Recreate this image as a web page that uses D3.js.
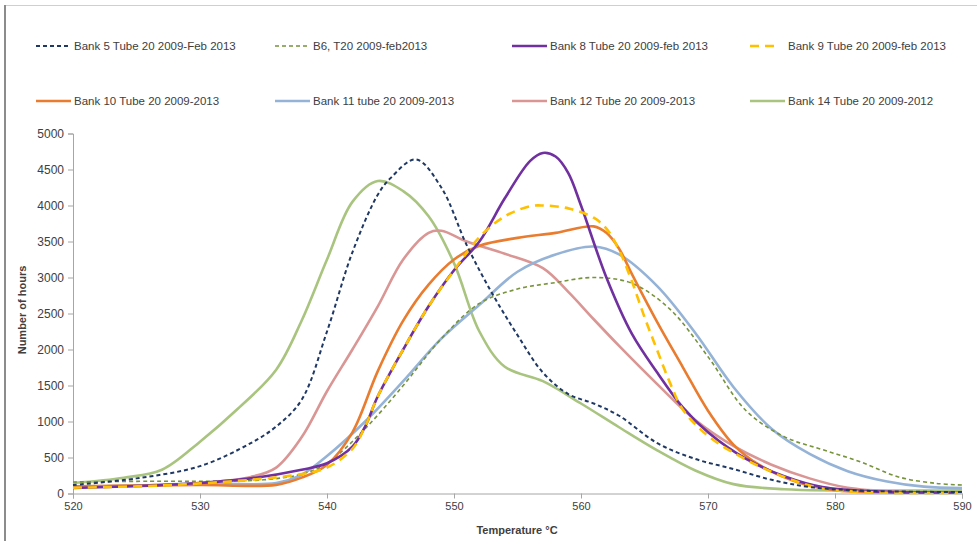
<!DOCTYPE html>
<html>
<head>
<meta charset="utf-8">
<script src="https://cdn.jsdelivr.net/npm/d3@7"></script>
<style>
  body { margin: 0; background: #fff; }
  svg text { font-family: "Liberation Sans", Arial, sans-serif; fill: #404040; }
</style>
</head>
<body>
<svg id="chart" width="977" height="541"></svg>
<script>
// temperatures (°C) and hours for each bank
var bank5T  = [520,525,530,534,536,538,540,542,544,545,547,549,551,553,555,557,559,561,563,566,569,572,575,578,582,590];
var bank5V  = [118,210,380,700,930,1300,2250,3350,4150,4380,4640,4250,3450,2780,2200,1680,1380,1250,1080,700,480,340,190,90,40,20];

var bank6T  = [520,526,530,535,538,540,543,546,549,552,555,558,561,564,567,570,573,576,579,582,585,588,590];
var bank6V  = [160,170,170,190,270,420,900,1500,2150,2640,2840,2930,3000,2920,2560,1900,1150,790,610,440,230,140,118];

var bank8T  = [520,526,530,534,538,540,542,543,544,546,548,550,552,554,556,557,558,559,560,562,564,566,568,570,573,576,579,583,590];
var bank8V  = [76,110,146,210,330,420,650,930,1350,2000,2600,3100,3500,4100,4620,4730,4680,4450,4000,3000,2220,1680,1200,850,480,240,90,30,15];

var bank9T  = [520,526,530,534,538,540,542,543,544,546,548,550,552,554,556,557,559,561,562,563,564,565,566,567,568,570,573,576,579,583,590];
var bank9V  = [80,105,140,190,270,360,620,930,1350,2000,2600,3100,3560,3850,3990,4000,3960,3830,3680,3380,2950,2450,1990,1540,1170,800,470,230,70,15,10];

var bank10T = [520,526,530,536,538,540,542,544,546,548,550,552,555,558,561,562,563,564,566,568,570,572,574,577,580,584,590];
var bank10V = [100,110,118,120,220,400,850,1700,2400,2900,3250,3440,3550,3620,3710,3620,3400,3050,2380,1760,1150,680,400,160,45,15,10];

var bank11T = [520,526,530,536,538,540,543,546,549,552,555,558,561,563,566,569,572,575,578,581,584,587,590];
var bank11V = [90,115,140,145,260,520,1000,1560,2150,2620,3080,3320,3430,3320,2880,2230,1480,900,550,310,170,95,76];

var bank12T = [520,526,530,534,536,538,540,542,544,546,548,549,551,554,557,559,561,563,566,569,572,575,578,581,585,590];
var bank12V = [90,115,146,230,360,780,1420,2000,2600,3250,3620,3650,3500,3330,3130,2800,2420,2050,1520,1020,660,400,210,80,25,15];

var bank14T = [520,524,527,530,533,536,538,540,542,544,546,548,550,552,554,557,560,563,566,569,572,576,590];
var bank14V = [146,220,330,720,1180,1720,2400,3250,4050,4340,4200,3850,3200,2250,1760,1560,1250,920,600,320,130,60,45];

var seriesNames = [
  "Bank 5 Tube 20 2009-Feb 2013", "B6, T20 2009-feb2013",
  "Bank 8 Tube 20 2009-feb 2013", "Bank 9 Tube 20 2009-feb 2013",
  "Bank 10 Tube 20 2009-2013", "Bank 11 tube 20  2009-2013",
  "Bank 12 Tube 20 2009-2013", "Bank 14 Tube 20 2009-2012"
];
var xTicks = [520,530,540,550,560,570,580,590];
var yTicks = [0,500,1000,1500,2000,2500,3000,3500,4000,4500,5000];

var styles = [
  {color: "#1f3864", width: 2,   dash: "4,3"},
  {color: "#77933c", width: 1.6, dash: "4,3"},
  {color: "#7030a0", width: 2.6, dash: null},
  {color: "#ffc000", width: 2.6, dash: "9,6"},
  {color: "#e97c2e", width: 2.6, dash: null},
  {color: "#95b3d7", width: 2.6, dash: null},
  {color: "#d99694", width: 2.6, dash: null},
  {color: "#a9c47f", width: 2.6, dash: null}
];

var allT = [bank5T, bank6T, bank8T, bank9T, bank10T, bank11T, bank12T, bank14T];
var allV = [bank5V, bank6V, bank8V, bank9V, bank10V, bank11V, bank12V, bank14V];
var series = seriesNames.map(function(n, i) {
  return {name: n, style: styles[i], pts: allT[i].map(function(t, j) { return [t, allV[i][j]]; })};
});

var svg = d3.select('#chart');

// outer frame
svg.append('line').attr('x1', 5).attr('x2', 977).attr('y1', 5.5).attr('y2', 5.5)
  .attr('stroke', '#cfcfcf').attr('stroke-width', 1);
svg.append('line').attr('x1', 5).attr('x2', 5).attr('y1', 5).attr('y2', 541)
  .attr('stroke', '#8c8c8c').attr('stroke-width', 2);

var x = d3.scaleLinear().domain([520, 590]).range([73, 962]);
var y = d3.scaleLinear().domain([0, 5000]).range([493.5, 133.5]);

// axes
var xAxis = svg.append('g').attr('transform', 'translate(0,493.5)')
  .call(d3.axisBottom(x).tickValues(xTicks).tickSize(5).tickPadding(4));
var yAxis = svg.append('g').attr('transform', 'translate(73,0)')
  .call(d3.axisLeft(y).tickValues(yTicks).tickFormat(d3.format('d')).tickSize(5).tickPadding(4));
[xAxis, yAxis].forEach(function(a) {
  a.select('.domain').attr('stroke', '#a6a6a6');
  a.selectAll('.tick line').attr('stroke', '#a6a6a6');
  a.selectAll('.tick text').attr('fill', '#404040')
    .style('font-family', '"Liberation Sans", Arial, sans-serif');
});
xAxis.selectAll('.tick text').style('font-size', '11px');
yAxis.selectAll('.tick text').style('font-size', '12px');

svg.append('text').attr('x', 517).attr('y', 534).attr('text-anchor', 'middle')
  .style('font-size', '11px').style('font-weight', 'bold').text('Temperature °C');
svg.append('text').attr('transform', 'translate(26,310) rotate(-90)').attr('text-anchor', 'middle')
  .style('font-size', '11px').style('font-weight', 'bold').text('Number of hours');

// lines
var line = d3.line()
  .x(function(d) { return x(d[0]); })
  .y(function(d) { return y(d[1]); })
  .curve(d3.curveCatmullRom.alpha(0.5));

var order = [7, 6, 5, 1, 4, 2, 3, 0];
order.forEach(function(i) {
  var s = series[i];
  svg.append('path').datum(s.pts)
    .attr('d', line)
    .attr('fill', 'none')
    .attr('stroke', s.style.color)
    .attr('stroke-width', s.style.width)
    .attr('stroke-dasharray', s.style.dash);
});

// legend
var legX = [36, 275, 512, 750];
var legY = [46, 101];
var leg = svg.selectAll('.leg').data(series).enter().append('g')
  .attr('class', 'leg')
  .attr('transform', function(d, i) {
    return 'translate(' + legX[i % 4] + ',' + legY[Math.floor(i / 4)] + ')';
  });
leg.append('line')
  .attr('x1', 0).attr('x2', function(d, i) { return i === 3 ? 28 : 35; })
  .attr('y1', 0).attr('y2', 0)
  .attr('stroke', function(d) { return d.style.color; })
  .attr('stroke-width', function(d) { return d.style.width; })
  .attr('stroke-dasharray', function(d) { return d.style.dash; });
leg.append('text')
  .attr('x', 38)
  .attr('y', 4)
  .style('font-size', '11.5px')
  .text(function(d) { return d.name; });
</script>
</body>
</html>
